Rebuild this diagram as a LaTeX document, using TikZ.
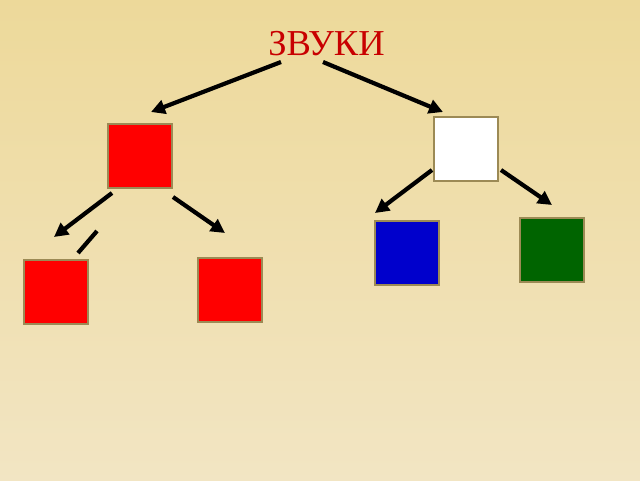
\documentclass[tikz,border=0pt]{standalone}
\usepackage{fontspec}
\setmainfont{Liberation Serif}
\usetikzlibrary{arrows.meta}
\definecolor{bgtop}{HTML}{EDD99A}
\definecolor{bgbot}{HTML}{F2E5C3}
\definecolor{boxline}{HTML}{9C8A55}
\definecolor{titlered}{HTML}{C80000}
\definecolor{myblue}{HTML}{0000CC}
\definecolor{mygreen}{HTML}{006400}
\tikzset{
  sq/.style={draw=boxline, line width=2pt, minimum width=64pt, minimum height=64pt, inner sep=0pt, outer sep=0pt},
  arr/.style={line width=4.2pt, -{Triangle[length=14pt,width=14pt]}},
  plainline/.style={line width=4.2pt}
}
\begin{document}
\begin{tikzpicture}[x=1pt,y=-1pt]
\useasboundingbox (0,0) rectangle (640,480);
\shade[top color=bgtop, bottom color=bgbot] (0,0) rectangle (640,480);
\node[text=titlered, font=\fontsize{36.5}{40}\selectfont, anchor=base] (title) at (326.5,55.5) {ЗВУКИ};
\node[sq, fill=red] (A) at (140,155.5) {};
\node[sq, fill=white] (B) at (465.5,148.5) {};
\node[sq, fill=red] (C) at (55.5,292) {};
\node[sq, fill=red] (D) at (230,289.5) {};
\node[sq, fill=myblue] (E) at (407,253) {};
\node[sq, fill=mygreen] (F) at (552,250) {};
% arrow end points
\coordinate (t1s) at (281,62);
\coordinate (t1e) at (151,112);
\coordinate (t2s) at (323,62);
\coordinate (t2e) at (443,112);
\coordinate (a1s) at (112,193);
\coordinate (a1e) at (54,237);
\coordinate (a2s) at (173,197);
\coordinate (a2e) at (225,233);
\coordinate (b1s) at (432,170);
\coordinate (b1e) at (375,213);
\coordinate (b2s) at (501,170);
\coordinate (b2e) at (552,205);
\coordinate (ls) at (97,231);
\coordinate (le) at (78,253);
\draw[arr] (t1s) -- (t1e);
\draw[arr] (t2s) -- (t2e);
\draw[arr] (a1s) -- (a1e);
\draw[arr] (a2s) -- (a2e);
\draw[arr] (b1s) -- (b1e);
\draw[arr] (b2s) -- (b2e);
\draw[plainline] (ls) -- (le);
\end{tikzpicture}
\end{document}
